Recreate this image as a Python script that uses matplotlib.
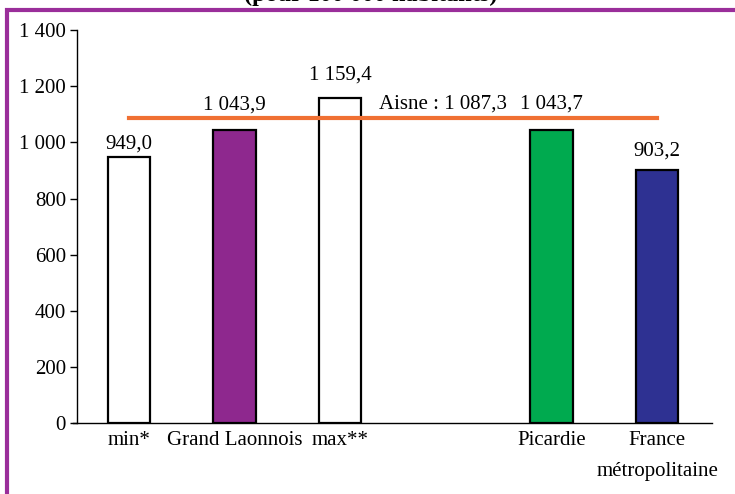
import matplotlib.pyplot as plt
from matplotlib.patches import Rectangle

plt.rcParams['font.family'] = 'Liberation Serif'
plt.rcParams['font.size'] = 15

categories = ['min*', 'Grand Laonnois', 'max**', '', 'Picardie', 'France\nmétropolitaine']
values = [949.0, 1043.9, 1159.4, None, 1043.7, 903.2]
labels = ['949,0', '1 043,9', '1 159,4', '', '1 043,7', '903,2']
colors = ['white', '#8E288E', 'white', 'white', '#00AA4F', '#2E3192']
label_gap = [3, 16, 13, 0, 17, 9]   # pixels between bar top and its label

aisne = 1087.3
aisne_label = 'Aisne : 1 087,3'
yticks = [0, 200, 400, 600, 800, 1000, 1200, 1400]
ytick_labels = ['0', '200', '400', '600', '800', '1 000', '1 200', '1 400']

fig = plt.figure(figsize=(7.35, 4.94), dpi=100)
ax = fig.add_axes([0.1048, 0.1437, 0.864, 0.795])

for i, v in enumerate(values):
    if v is None:
        continue
    ax.bar(i, v, width=0.4, color=colors[i], edgecolor='black', linewidth=1.6, zorder=2)
    ax.annotate(labels[i], (i, v), xytext=(0, label_gap[i]), textcoords='offset pixels',
                ha='center', va='bottom', zorder=4)

ax.plot([0, 5], [aisne, aisne], color='#F07033', linewidth=3, zorder=3)
ax.annotate(aisne_label, (2.97, aisne), xytext=(0, 4), textcoords='offset pixels',
            ha='center', va='bottom')

ax.set_xlim(-0.49, 5.52)
ax.set_ylim(0, 1400)
ax.set_yticks(yticks)
ax.set_yticklabels(ytick_labels)
ax.set_xticks(range(len(categories)))
ax.set_xticklabels(categories, linespacing=1.85)
ax.tick_params(axis='x', length=0, pad=6)
ax.tick_params(axis='y', length=5, width=1, pad=3)
for s in ['top', 'right']:
    ax.spines[s].set_visible(False)
ax.spines['left'].set_linewidth(1)
ax.spines['bottom'].set_linewidth(1)
ax.spines['bottom'].set_bounds(-0.53, 5.52)

# purple frame, cut on the right and bottom
fig.patches.append(Rectangle((7 / 735, -0.05), 1.1, 1 - 10 / 494 + 0.05, transform=fig.transFigure,
                             fill=False, edgecolor='#9A2E9A', linewidth=3))
fig.text(371 / 735, 1 - 1 / 494, '(pour 100 000 habitants)', ha='center', va='baseline',
         fontweight='bold', fontsize=17.5)

fig.savefig('out.png', dpi=100)
